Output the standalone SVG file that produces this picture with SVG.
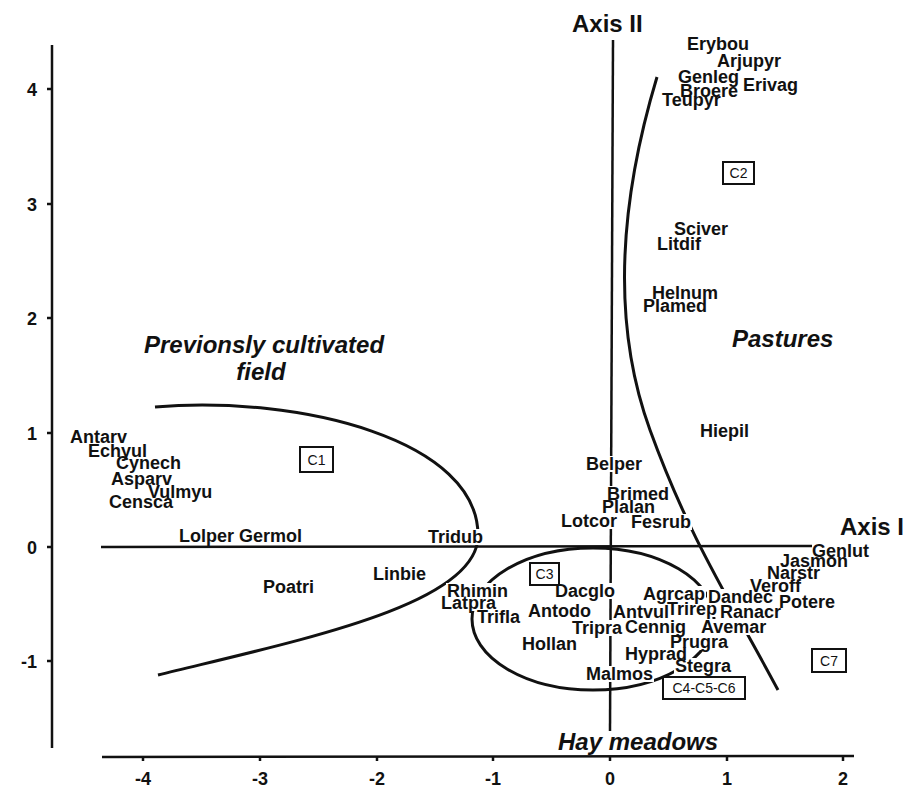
<svg xmlns="http://www.w3.org/2000/svg" width="907" height="793" viewBox="0 0 907 793">
<style>
.lb{font-family:"Liberation Sans",Arial,sans-serif;font-weight:bold;font-size:18px;fill:#111}
.tk{font-family:"Liberation Sans",Arial,sans-serif;font-weight:bold;font-size:18px;fill:#111}
.ax{font-family:"Liberation Sans",Arial,sans-serif;font-weight:bold;font-size:24px;fill:#111}
.gr{font-family:"Liberation Sans",Arial,sans-serif;font-weight:bold;font-style:italic;font-size:24px;fill:#111}
.bx rect{fill:#fff;stroke:#111;stroke-width:2}
.bx text{font-family:"Liberation Sans",Arial,sans-serif;font-size:14px;fill:#111;text-anchor:middle}
.ln{fill:none;stroke:#111;stroke-width:2.5}
.cv{fill:none;stroke:#111;stroke-width:3}
</style>
<defs>
<mask id="knock" maskUnits="userSpaceOnUse" x="0" y="0" width="907" height="793">
<rect x="0" y="0" width="907" height="793" fill="#fff"/>
<g fill="#000">
<rect x="427" y="529" width="58" height="16"/>
<rect x="585" y="456" width="58" height="16"/>
<rect x="606" y="486" width="64" height="16"/>
<rect x="601" y="499" width="55" height="16"/>
<rect x="560" y="513" width="58" height="16"/>
<rect x="630" y="514" width="62" height="16"/>
<rect x="446" y="583" width="63" height="16"/>
<rect x="440" y="595" width="57" height="16"/>
<rect x="476" y="609" width="46" height="16"/>
<rect x="554" y="583" width="62" height="16"/>
<rect x="612" y="604" width="57" height="16"/>
<rect x="571" y="620" width="53" height="16"/>
<rect x="624" y="619" width="63" height="16"/>
<rect x="585" y="666" width="69" height="16"/>
<rect x="642" y="586" width="64" height="16"/>
<rect x="666" y="601" width="53" height="16"/>
<rect x="707" y="589" width="67" height="16"/>
<rect x="719" y="604" width="63" height="16"/>
<rect x="700" y="619" width="68" height="16"/>
<rect x="669" y="634" width="60" height="16"/>
<rect x="624" y="646" width="64" height="16"/>
<rect x="674" y="658" width="58" height="16"/>
</g>
</mask>
</defs>
<rect width="907" height="793" fill="#fff"/>

<g id="frame">
<line class="ln" x1="52" y1="45" x2="52" y2="748"/>
<line class="ln" x1="47" y1="89" x2="52" y2="89"/>
<line class="ln" x1="47" y1="204" x2="52" y2="204"/>
<line class="ln" x1="47" y1="318" x2="52" y2="318"/>
<line class="ln" x1="47" y1="433" x2="52" y2="433"/>
<line class="ln" x1="47" y1="547" x2="52" y2="547"/>
<line class="ln" x1="47" y1="661" x2="52" y2="661"/>
<text class="tk" x="37" y="96" text-anchor="end">4</text>
<text class="tk" x="37" y="211" text-anchor="end">3</text>
<text class="tk" x="37" y="325" text-anchor="end">2</text>
<text class="tk" x="37" y="440" text-anchor="end">1</text>
<text class="tk" x="37" y="554" text-anchor="end">0</text>
<text class="tk" x="37" y="668" text-anchor="end">-1</text>
<line class="ln" x1="102" y1="757" x2="854" y2="756"/>
<g class="ln">
<line x1="143" y1="757" x2="143" y2="761"/>
<line x1="260" y1="757" x2="260" y2="761"/>
<line x1="377" y1="757" x2="377" y2="761"/>
<line x1="493" y1="757" x2="493" y2="761"/>
<line x1="610" y1="757" x2="610" y2="761"/>
<line x1="727" y1="757" x2="727" y2="761"/>
<line x1="843" y1="757" x2="843" y2="761"/>
</g>
<text class="tk" x="143" y="785" text-anchor="middle">-4</text>
<text class="tk" x="260" y="785" text-anchor="middle">-3</text>
<text class="tk" x="377" y="785" text-anchor="middle">-2</text>
<text class="tk" x="493" y="785" text-anchor="middle">-1</text>
<text class="tk" x="610" y="785" text-anchor="middle">0</text>
<text class="tk" x="727" y="785" text-anchor="middle">1</text>
<text class="tk" x="843" y="785" text-anchor="middle">2</text>
</g>

<g id="connectors" mask="url(#knock)">
<line id="axis1-line" class="ln" x1="101" y1="547" x2="812" y2="546"/>
<line id="axis2-line" class="ln" x1="613" y1="40" x2="610" y2="731"/>
<path id="field-curve" class="cv" d="M155,407 C300,395 480,440 478,537 C476,605 300,640 158,675"/>
<path id="pasture-curve" class="cv" d="M657,77 C620,200 610,320 650,430 S730,600 778,690"/>
<ellipse id="hay-ellipse" class="cv" cx="593" cy="619" rx="121" ry="71"/>
</g>

<g id="axis-labels">
<text id="axis2" class="ax" x="572" y="32">Axis II</text>
<text id="axis1" class="ax" x="840" y="535">Axis I</text>
</g>

<g id="groups">
<text id="g-field" class="gr" text-anchor="middle"><tspan x="264" y="353">Previonsly cultivated</tspan><tspan x="261" y="380">field</tspan></text>
<text id="g-pastures" class="gr" x="732" y="347">Pastures</text>
<text id="g-hay" class="gr" x="558" y="750">Hay meadows</text>
</g>

<g id="boxes">
<g id="C1" class="bx"><rect x="300" y="447" width="33" height="25"/><text x="316.5" y="465">C1</text></g>
<g id="C2" class="bx"><rect x="723" y="162" width="31" height="22"/><text x="738.5" y="178">C2</text></g>
<g id="C3" class="bx"><rect x="530" y="563" width="29" height="22"/><text x="544.5" y="579">C3</text></g>
<g id="C7" class="bx"><rect x="812" y="649" width="34" height="23"/><text x="829" y="666">C7</text></g>
<g id="C456" class="bx"><rect x="663" y="677" width="82" height="22"/><text x="704" y="693">C4-C5-C6</text></g>
</g>

<g id="species" class="lb">
<g id="Erybou"><text x="687" y="50">Erybou</text></g>
<g id="Arjupyr"><text x="717" y="67">Arjupyr</text></g>
<g id="Genleg"><text x="678" y="83">Genleg</text></g>
<g id="Erivag"><text x="743" y="91">Erivag</text></g>
<g id="Broere"><text x="680" y="97">Broere</text></g>
<g id="Teupyr"><text x="662" y="106">Teupyr</text></g>
<g id="Sciver"><text x="674" y="235">Sciver</text></g>
<g id="Litdif"><text x="657" y="250">Litdif</text></g>
<g id="Helnum"><text x="652" y="299">Helnum</text></g>
<g id="Plamed"><text x="643" y="312">Plamed</text></g>
<g id="Hiepil"><text x="700" y="437">Hiepil</text></g>
<g id="Antarv"><text x="70" y="443">Antarv</text></g>
<g id="Echyul"><text x="88" y="457">Echyul</text></g>
<g id="Cynech"><text x="116" y="469">Cynech</text></g>
<g id="Asparv"><text x="111" y="485">Asparv</text></g>
<g id="Vulmyu"><text x="148" y="498">Vulmyu</text></g>
<g id="Censca"><text x="109" y="508">Censca</text></g>
<g id="Lolper"><text x="179" y="542">Lolper</text></g>
<g id="Germol"><text x="239" y="542">Germol</text></g>
<g id="Poatri"><text x="263" y="593">Poatri</text></g>
<g id="Tridub"><text x="428" y="543">Tridub</text></g>
<g id="Linbie"><text x="373" y="580">Linbie</text></g>
<g id="Belper"><text x="586" y="470">Belper</text></g>
<g id="Brimed"><text x="607" y="500">Brimed</text></g>
<g id="Plalan"><text x="602" y="513">Plalan</text></g>
<g id="Lotcor"><text x="561" y="527">Lotcor</text></g>
<g id="Fesrub"><text x="631" y="528">Fesrub</text></g>
<g id="Rhimin"><text x="447" y="597">Rhimin</text></g>
<g id="Latpra"><text x="441" y="609">Latpra</text></g>
<g id="Trifla"><text x="477" y="623">Trifla</text></g>
<g id="Dacglo"><text x="555" y="597">Dacglo</text></g>
<g id="Antodo"><text x="528" y="617">Antodo</text></g>
<g id="Tripra"><text x="572" y="634">Tripra</text></g>
<g id="Hollan"><text x="522" y="650">Hollan</text></g>
<g id="Malmos"><text x="586" y="680">Malmos</text></g>
<g id="Agrcap"><text x="643" y="600">Agrcap</text></g>
<g id="Antvul"><text x="613" y="618">Antvul</text></g>
<g id="Trirep"><text x="667" y="615">Trirep</text></g>
<g id="Cennig"><text x="625" y="633">Cennig</text></g>
<g id="Dandec"><text x="708" y="603">Dandec</text></g>
<g id="Ranacr"><text x="720" y="618">Ranacr</text></g>
<g id="Avemar"><text x="701" y="633">Avemar</text></g>
<g id="Prugra"><text x="670" y="648">Prugra</text></g>
<g id="Hyprad"><text x="625" y="660">Hyprad</text></g>
<g id="Stegra"><text x="675" y="672">Stegra</text></g>
<g id="Potere"><text x="779" y="608">Potere</text></g>
<g id="Veroff"><text x="750" y="592">Veroff</text></g>
<g id="Narstr"><text x="767" y="579">Narstr</text></g>
<g id="Jasmon"><text x="780" y="567">Jasmon</text></g>
<g id="Genlut"><text x="812" y="557">Genlut</text></g>
</g>
</svg>
